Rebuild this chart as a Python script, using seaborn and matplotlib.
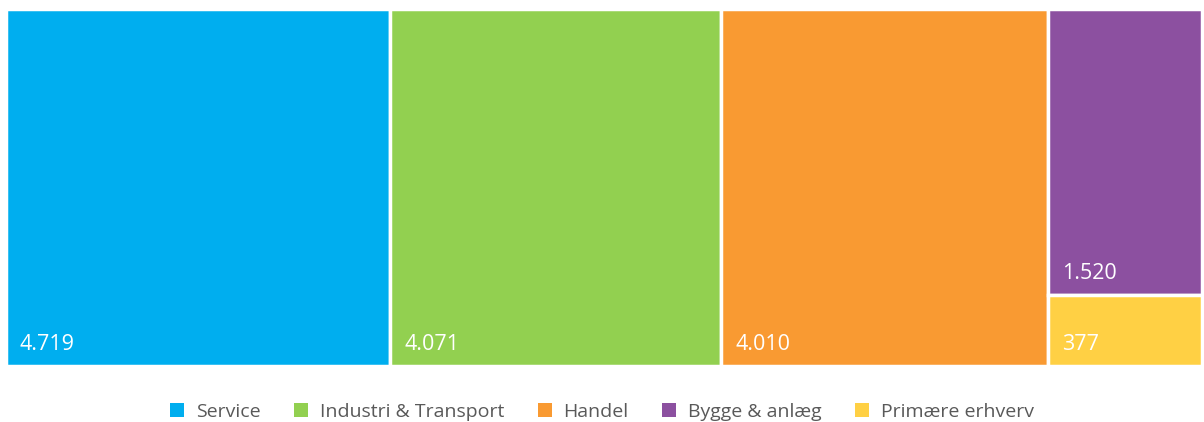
import pandas as pd
import seaborn as sns
import matplotlib.pyplot as plt
from matplotlib.patches import Patch

# Data
categories = ['Service', 'Industri & Transport', 'Handel', 'Bygge & anlæg', 'Primære erhverv']
values = [4719, 4071, 4010, 1520, 377]
labels = ['4.719', '4.071', '4.010', '1.520', '377']
colors = ['#00AEEF', '#92D050', '#F99A32', '#8C50A0', '#FFD044']
# the last two categories share one column in the treemap
column = [0, 1, 2, 3, 3]

df = pd.DataFrame({'cat': categories, 'val': values, 'label': labels,
                   'color': colors, 'col': column})

# treemap layout: column widths proportional to column totals, stacked inside a column
total = df['val'].sum()
col_tot = df.groupby('col')['val'].sum()
col_left = col_tot.cumsum().shift(fill_value=0) / total
df['x'] = df['col'].map(col_left)
df['w'] = df['col'].map(col_tot / total)
df['h'] = df['val'] / df['col'].map(col_tot)
# stack from top to bottom inside each column
df['bottom'] = 1 - df.groupby('col')['h'].cumsum()

sns.set_style('white')
plt.rcParams['font.family'] = ['Open Sans', 'DejaVu Sans']

fig = plt.figure(figsize=(12.04, 4.22), dpi=100)
ax = fig.add_axes([6 / 1204, 56 / 422, 1196 / 1204, 357 / 422])

ax.bar(df['x'], df['h'], width=df['w'], bottom=df['bottom'], align='edge',
       color=df['color'], edgecolor='white', linewidth=2.5)

for _, r in df.iterrows():
    ax.annotate(r['label'], (r['x'], r['bottom']), xytext=(14, 11),
                textcoords='offset pixels',
                color='white', fontsize=15.5, ha='left', va='bottom')

ax.set_xlim(0, 1)
ax.set_ylim(0, 1)
ax.axis('off')

handles = [Patch(facecolor=c, edgecolor='none') for c in colors]
fig.legend(handles, categories, loc='center', bbox_to_anchor=(0.5, 10 / 422),
           ncol=5, frameon=False, fontsize=14, handlelength=0.7, handleheight=0.7,
           handletextpad=0.6, columnspacing=1.75, labelcolor='#595959')

plt.savefig('out.png', dpi=100)
